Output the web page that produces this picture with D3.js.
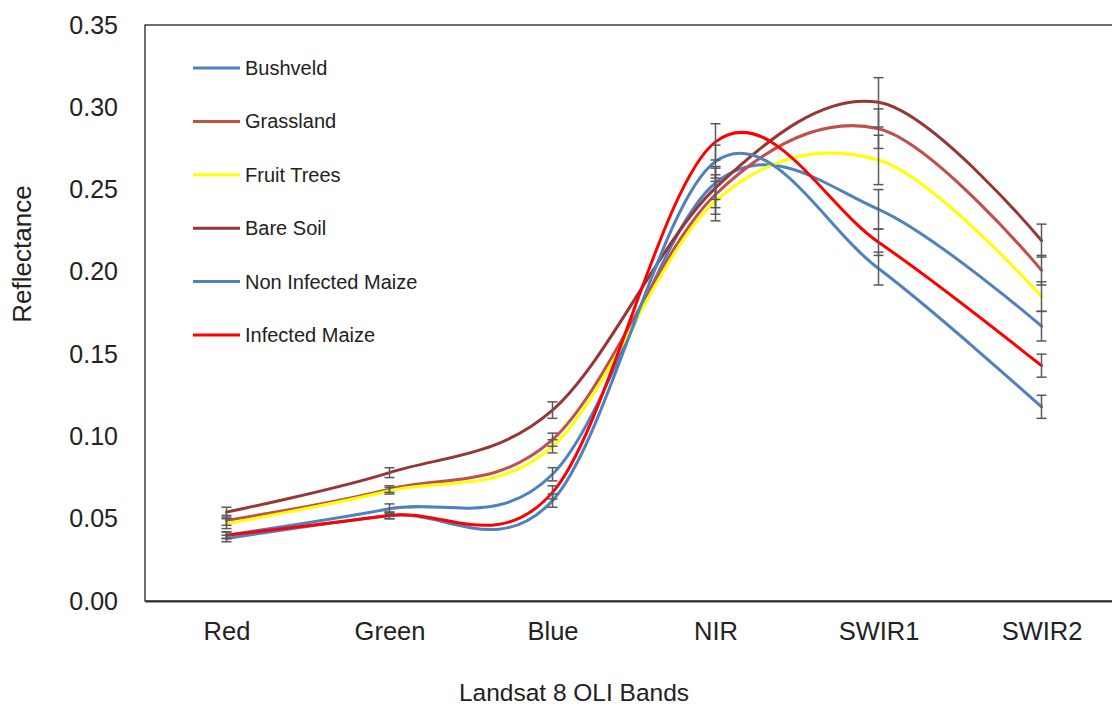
<!DOCTYPE html>
<html>
<head>
<meta charset="utf-8">
<script src="https://cdn.jsdelivr.net/npm/d3@7"></script>
<style>
  html, body { margin: 0; padding: 0; background: #ffffff; }
  svg { display: block; font-family: "Liberation Sans", Arial, sans-serif; }
</style>
</head>
<body>
<svg id="chart" width="1112" height="706"></svg>
<script>
// Landsat 8 OLI bands on the x axis
const bands = ["Red", "Green", "Blue", "NIR", "SWIR1", "SWIR2"];
const yTicks = [0, 0.05, 0.10, 0.15, 0.20, 0.25, 0.30, 0.35];

// Mean reflectance per land-cover class
const bushveld    = [0.040, 0.056, 0.077, 0.254, 0.238, 0.167];
const grassland   = [0.049, 0.068, 0.098, 0.247, 0.287, 0.201];
const fruitTrees  = [0.047, 0.067, 0.094, 0.243, 0.268, 0.185];
const bareSoil    = [0.054, 0.078, 0.116, 0.251, 0.303, 0.219];
const nonInfected = [0.038, 0.052, 0.061, 0.267, 0.202, 0.118];
const infected    = [0.040, 0.052, 0.066, 0.279, 0.218, 0.143];

// Error bar half-lengths
const bushveldErr    = [0.002, 0.003, 0.004, 0.010, 0.012, 0.009];
const grasslandErr   = [0.003, 0.002, 0.004, 0.012, 0.012, 0.009];
const fruitTreesErr  = [0.003, 0.002, 0.004, 0.012, 0.015, 0.009];
const bareSoilErr    = [0.003, 0.003, 0.005, 0.012, 0.015, 0.010];
const nonInfectedErr = [0.002, 0.002, 0.004, 0.010, 0.010, 0.007];
const infectedErr    = [0.002, 0.002, 0.004, 0.011, 0.008, 0.007];

const seriesNames = ["Bushveld", "Grassland", "Fruit Trees", "Bare Soil", "Non Infected Maize", "Infected Maize"];
const seriesValues = [bushveld, grassland, fruitTrees, bareSoil, nonInfected, infected];
const seriesErrors = [bushveldErr, grasslandErr, fruitTreesErr, bareSoilErr, nonInfectedErr, infectedErr];
const seriesColors = ["#4f81bd", "#c0504d", "#ffff00", "#953735", "#4f81bd", "#ff0000"];

const series = seriesNames.map((name, i) => ({
  name,
  color: seriesColors[i],
  points: bands.map((b, j) => ({ band: b, value: seriesValues[i][j], err: seriesErrors[i][j] }))
}));

const svg = d3.select("#chart");
const plot = { left: 145, top: 25, right: 1123, bottom: 601 };

const x = d3.scalePoint().domain(bands).range([plot.left, plot.right]).padding(0.5);
const y = d3.scaleLinear().domain([0, 0.35]).range([plot.bottom, plot.top]);

// Plot frame
svg.append("rect")
  .attr("x", plot.left).attr("y", plot.top)
  .attr("width", plot.right - plot.left).attr("height", plot.bottom - plot.top)
  .attr("fill", "none").attr("stroke", "#222").attr("stroke-width", 1.3);

// Y axis
const yAxis = svg.append("g")
  .attr("transform", `translate(${plot.left},0)`)
  .call(d3.axisLeft(y).tickValues(yTicks).tickFormat(d3.format(".2f")).tickSize(0).tickPadding(27));
yAxis.select(".domain").remove();
yAxis.selectAll("text").attr("font-size", 25).attr("fill", "#222").attr("font-family", "Liberation Sans, Arial, sans-serif");

// X axis
const xAxis = svg.append("g")
  .attr("transform", `translate(0,${plot.bottom})`)
  .call(d3.axisBottom(x).tickSize(0).tickPadding(21));
xAxis.select(".domain").attr("stroke", "#333").attr("stroke-width", 2);
xAxis.selectAll("text").attr("font-size", 25.5).attr("fill", "#222").attr("font-family", "Liberation Sans, Arial, sans-serif");

// Axis titles
svg.append("text")
  .attr("x", 574).attr("y", 701)
  .attr("text-anchor", "middle").attr("font-size", 24.5).attr("fill", "#222")
  .text("Landsat 8 OLI Bands");
svg.append("text")
  .attr("transform", "translate(31,254) rotate(-90)")
  .attr("text-anchor", "middle").attr("font-size", 26).attr("fill", "#222")
  .text("Reflectance");

// Smoothed series lines
const line = d3.line()
  .x(d => x(d.band))
  .y(d => y(d.value))
  .curve(d3.curveCardinal.tension(0));

svg.append("g").selectAll("path")
  .data(series)
  .join("path")
  .attr("d", d => line(d.points))
  .attr("fill", "none")
  .attr("stroke", d => d.color)
  .attr("stroke-width", 3)
  .attr("stroke-linecap", "round");

// Error bars
const capHalf = 5;
const errG = svg.append("g").attr("stroke", "#5a5a5a").attr("stroke-width", 1.5);
series.forEach(s => {
  s.points.forEach(p => {
    const cx = x(p.band);
    const y1 = y(p.value + p.err), y0 = y(p.value - p.err);
    errG.append("line").attr("x1", cx).attr("x2", cx).attr("y1", y1).attr("y2", y0);
    errG.append("line").attr("x1", cx - capHalf).attr("x2", cx + capHalf).attr("y1", y1).attr("y2", y1);
    errG.append("line").attr("x1", cx - capHalf).attr("x2", cx + capHalf).attr("y1", y0).attr("y2", y0);
  });
});

// Legend
const legend = svg.append("g").attr("transform", "translate(193,68)");
const rows = legend.selectAll("g")
  .data(series)
  .join("g")
  .attr("transform", (d, i) => `translate(0,${i * 53.4})`);
rows.append("line")
  .attr("x1", 0).attr("x2", 47).attr("y1", 0).attr("y2", 0)
  .attr("stroke", d => d.color).attr("stroke-width", 3);
rows.append("text")
  .attr("x", 52).attr("y", 0).attr("dy", "0.35em")
  .attr("font-size", 20).attr("fill", "#222")
  .text(d => d.name);
</script>
</body>
</html>
